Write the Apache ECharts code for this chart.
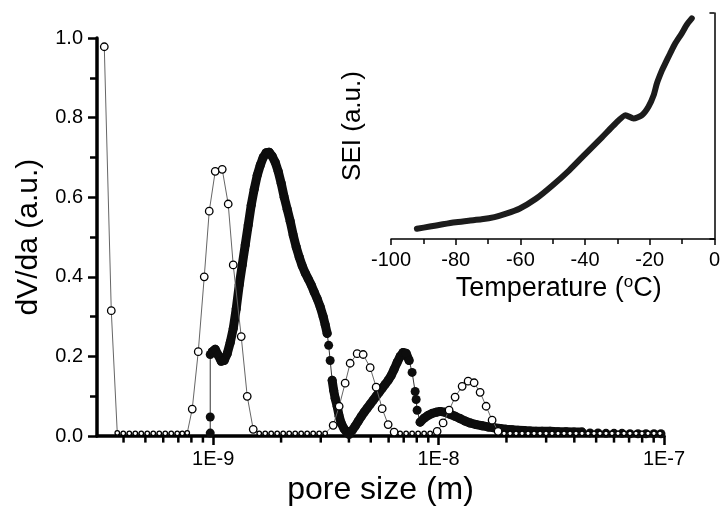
<!DOCTYPE html>
<html>
<head>
<meta charset="utf-8">
<script src="https://cdn.jsdelivr.net/npm/echarts@6/dist/echarts.min.js"></script>
<style>
  html, body { margin: 0; padding: 0; background: #fff; }
  #chart { width: 723px; height: 511px; }
</style>
</head>
<body>
<div id="chart"></div>
<script>
const FONT = '"Liberation Sans", Arial, Helvetica, sans-serif';

// Pore size distribution, open circles (pore size in m, dV/da in a.u.)
const openSize = [
  0.3286e-9, 0.3529e-9, 0.3752e-9, 0.3989e-9, 0.4242e-9, 0.4510e-9, 0.4795e-9, 0.5098e-9,
  0.5420e-9, 0.5762e-9, 0.6126e-9, 0.6513e-9, 0.6924e-9, 0.7287e-9, 0.7668e-9,
  0.8069e-9, 0.8581e-9, 0.9123e-9, 0.9600e-9, 1.0206e-9, 1.0962e-9, 1.1654e-9, 1.2267e-9,
  1.3311e-9, 1.4152e-9, 1.5046e-9,
  1.5996e-9, 1.7007e-9, 1.8081e-9, 1.9223e-9, 2.0437e-9, 2.1728e-9, 2.3101e-9, 2.4560e-9,
  2.6111e-9, 2.7760e-9, 2.9514e-9, 3.1378e-9,
  3.4050e-9, 3.6201e-9, 3.8487e-9, 4.0503e-9, 4.3509e-9, 4.6259e-9, 4.9691e-9, 5.2830e-9,
  5.6166e-9, 5.9714e-9, 6.3484e-9,
  6.7495e-9, 7.1757e-9, 7.6290e-9, 8.1113e-9, 8.6236e-9, 9.1682e-9,
  9.8480e-9, 10.470e-9, 11.131e-9, 11.834e-9, 12.715e-9, 13.518e-9, 14.372e-9, 15.280e-9,
  16.245e-9, 17.271e-9, 18.362e-9,
  19.521e-9, 20.754e-9, 22.065e-9, 23.458e-9, 24.940e-9, 26.515e-9, 28.190e-9, 29.970e-9,
  31.863e-9, 33.875e-9, 36.014e-9, 38.289e-9, 40.707e-9, 43.278e-9, 46.011e-9, 48.917e-9,
  52.007e-9, 55.291e-9, 58.783e-9, 62.496e-9, 66.443e-9, 70.639e-9, 75.101e-9, 79.844e-9,
  84.886e-9, 90.247e-9, 95.947e-9
];
const openDV = [
  0.978, 0.315, 0.008, 0.007, 0.007, 0.007, 0.007, 0.007,
  0.007, 0.007, 0.007, 0.007, 0.007, 0.007, 0.008,
  0.068, 0.212, 0.400, 0.565, 0.665, 0.670, 0.583, 0.430,
  0.250, 0.100, 0.017,
  0.007, 0.007, 0.007, 0.007, 0.007, 0.007, 0.007, 0.007,
  0.007, 0.007, 0.007, 0.007,
  0.027, 0.075, 0.133, 0.183, 0.207, 0.205, 0.172, 0.123,
  0.069, 0.029, 0.010,
  0.007, 0.007, 0.007, 0.007, 0.007, 0.007,
  0.012, 0.033, 0.065, 0.098, 0.125, 0.138, 0.134, 0.110,
  0.075, 0.040, 0.012,
  0.007, 0.007, 0.007, 0.007, 0.007, 0.007, 0.007, 0.007,
  0.007, 0.007, 0.007, 0.007, 0.007, 0.007, 0.007, 0.007,
  0.007, 0.007, 0.007, 0.007, 0.007, 0.007, 0.007, 0.007,
  0.007, 0.007, 0.007
];

// Pore size distribution, filled circles
const blackSize = [
  0.9698e-9, 0.9698e-9, 0.9698e-9,
  0.9898e-9, 1.0206e-9, 1.0524e-9, 1.0851e-9, 1.1189e-9, 1.1536e-9, 1.1896e-9, 1.2267e-9,
  1.2649e-9, 1.3043e-9, 1.3449e-9, 1.3867e-9, 1.4297e-9, 1.4742e-9, 1.5199e-9, 1.5672e-9,
  1.6160e-9, 1.6662e-9, 1.7181e-9, 1.7715e-9, 1.8266e-9, 1.8834e-9, 1.9420e-9, 2.0024e-9,
  2.0647e-9, 2.1289e-9, 2.1951e-9, 2.2634e-9, 2.3338e-9, 2.4064e-9, 2.4812e-9, 2.5584e-9,
  2.6380e-9, 2.7200e-9, 2.8046e-9, 2.8918e-9, 2.9818e-9, 3.0745e-9, 3.1378e-9, 3.2026e-9,
  3.2523e-9, 3.3025e-9,
  3.3704e-9, 3.4224e-9, 3.4753e-9, 3.5470e-9, 3.6201e-9, 3.6948e-9, 3.8096e-9, 3.9282e-9,
  4.0092e-9, 4.1338e-9, 4.2629e-9, 4.3955e-9, 4.5323e-9, 4.6733e-9, 4.8188e-9, 4.9691e-9,
  5.1235e-9, 5.2830e-9, 5.4472e-9, 5.6166e-9, 5.7914e-9, 5.9714e-9, 6.1573e-9, 6.3484e-9,
  6.5454e-9, 6.7495e-9, 6.9592e-9, 7.1757e-9, 7.3985e-9,
  7.6290e-9, 7.8676e-9, 7.9484e-9, 8.0300e-9,
  8.2797e-9, 8.6236e-9, 8.9827e-9, 9.3571e-9, 9.7479e-9, 10.154e-9, 10.686e-9, 11.245e-9,
  11.834e-9, 12.454e-9, 13.104e-9, 13.789e-9, 14.669e-9, 15.596e-9, 16.580e-9, 17.627e-9,
  18.738e-9, 19.924e-9, 21.183e-9, 22.519e-9, 23.942e-9, 25.453e-9, 27.063e-9, 28.772e-9,
  31.217e-9, 33.875e-9, 36.757e-9, 39.884e-9, 43.278e-9,
  46.962e-9, 50.955e-9, 55.291e-9, 60.005e-9, 65.104e-9, 70.639e-9, 76.652e-9, 83.173e-9,
  90.247e-9, 96.932e-9
];
const blackDV = [
  0.0075, 0.048, 0.205,
  0.212, 0.218, 0.203, 0.188, 0.190, 0.207, 0.235, 0.270,
  0.320, 0.380, 0.430, 0.480, 0.530, 0.580, 0.620, 0.655,
  0.680, 0.700, 0.712, 0.713, 0.703, 0.688, 0.665, 0.635,
  0.600, 0.570, 0.540, 0.505, 0.475, 0.450, 0.428, 0.410,
  0.395, 0.380, 0.362, 0.345, 0.325, 0.300, 0.280, 0.258,
  0.228, 0.190,
  0.140, 0.115, 0.095, 0.075, 0.050, 0.033, 0.018, 0.008,
  0.004, 0.014, 0.025, 0.037, 0.049, 0.060, 0.070, 0.080,
  0.090, 0.100, 0.110, 0.120, 0.130, 0.140, 0.152, 0.168,
  0.185, 0.200, 0.210, 0.208, 0.190,
  0.160, 0.112, 0.092, 0.065,
  0.035, 0.045, 0.052, 0.057, 0.060, 0.062, 0.060, 0.055,
  0.050, 0.044, 0.038, 0.033, 0.029, 0.026, 0.023, 0.021,
  0.019, 0.017, 0.016, 0.015, 0.014, 0.013, 0.012, 0.012,
  0.012, 0.011, 0.011, 0.010, 0.010,
  0.008, 0.008, 0.007, 0.007, 0.007, 0.006, 0.006, 0.006,
  0.006, 0.006
];
// index ranges [start, end) where the filled markers overlap into a solid band
const blackDenseRuns = [[3, 43], [45, 74], [78, 107]];

// Minor tick positions on the logarithmic pore-size axis
const minorTickSizes = [
  4e-10, 5e-10, 6e-10, 7e-10, 8e-10, 9e-10,
  2e-9, 3e-9, 4e-9, 5e-9, 6e-9, 7e-9, 8e-9, 9e-9,
  2e-8, 3e-8, 4e-8, 5e-8, 6e-8, 7e-8, 8e-8, 9e-8
];

// Inset: SEI versus temperature
const insetTemp = [
  -92, -88, -84, -80, -76, -72, -68, -64.4, -60.3, -55.2, -50.1, -44.9, -39.8,
  -34.7, -30.6, -27.5, -25.0, -22.4, -20.4, -18.8, -17.8, -16.2, -15.2, -13.7,
  -12.1, -10.1, -8.6, -7.0
];
const insetSEI = [
  0.045, 0.055, 0.065, 0.074, 0.081, 0.087, 0.097, 0.112, 0.134, 0.178, 0.237, 0.304, 0.378,
  0.451, 0.511, 0.548, 0.533, 0.548, 0.585, 0.636, 0.688, 0.747, 0.777, 0.821,
  0.866, 0.910, 0.947, 0.976
];

const zip = (xs, ys) => xs.map((x, i) => [x, ys[i]]);
const blackData = zip(blackSize, blackDV);

const chart = echarts.init(document.getElementById('chart'), null, { renderer: 'canvas' });

const thickSeries = blackDenseRuns.map(([a, b]) => ({
  type: 'line',
  xAxisIndex: 0, yAxisIndex: 0,
  data: blackData.slice(a, b),
  symbol: 'none',
  lineStyle: { color: '#0d0d0d', width: 9, cap: 'round', join: 'round' },
  z: 3,
  silent: true
}));

chart.setOption({
  animation: false,
  backgroundColor: '#fff',
  textStyle: { fontFamily: FONT, color: '#000' },
  grid: [
    { left: 97, right: 59, top: 38, bottom: 73 },
    { left: 391, right: 6, top: 13, bottom: 272 }
  ],
  xAxis: [
    {
      type: 'log', logBase: 10, gridIndex: 0,
      min: 3.05e-10, max: 1e-7,
      axisLine: { lineStyle: { color: '#000', width: 3.5 } },
      axisTick: { length: 9, lineStyle: { color: '#000', width: 2.5 } },
      axisLabel: {
        color: '#000', fontSize: 20, fontFamily: FONT, margin: 13,
        showMinLabel: false,
        formatter: v => '1E' + Math.round(Math.log10(v))
      },
      splitLine: { show: false },
      name: 'pore size (m)', nameLocation: 'middle', nameGap: 37,
      nameTextStyle: { fontSize: 32, fontFamily: FONT, color: '#000' }
    },
    {
      type: 'value', gridIndex: 1, min: -100, max: 0, interval: 20,
      axisLine: { lineStyle: { color: '#000', width: 1.5 } },
      axisTick: { length: 6, lineStyle: { color: '#000', width: 1.5 } },
      minorTick: { show: true, splitNumber: 2, length: 5, lineStyle: { color: '#000', width: 1.5 } },
      axisLabel: { color: '#000', fontSize: 20, fontFamily: FONT, margin: 11 },
      splitLine: { show: false },
      name: '{t|Temperature (}{s|o}{t|C)}', nameLocation: 'middle', nameGap: 35,
      nameTextStyle: {
        color: '#000', fontFamily: FONT, fontSize: 27,
        padding: [0, 0, 0, 12],
        rich: {
          t: { fontSize: 27, fontFamily: FONT, color: '#000', lineHeight: 29 },
          s: { fontSize: 17, fontFamily: FONT, color: '#000', verticalAlign: 'top', lineHeight: 17 }
        }
      }
    }
  ],
  yAxis: [
    {
      type: 'value', gridIndex: 0, min: 0, max: 1, interval: 0.2,
      axisLine: { show: true, lineStyle: { color: '#000', width: 3.5 } },
      axisTick: { show: true, length: 9, lineStyle: { color: '#000', width: 2.5 } },
      minorTick: { show: true, splitNumber: 2, length: 7, lineStyle: { color: '#000', width: 2.5 } },
      axisLabel: { color: '#000', fontSize: 20, fontFamily: FONT, margin: 14, formatter: v => v.toFixed(1) },
      splitLine: { show: false },
      name: 'dV/da (a.u.)', nameLocation: 'middle', nameGap: 53,
      nameTextStyle: { fontSize: 30, fontFamily: FONT, color: '#000' }
    },
    {
      type: 'value', gridIndex: 1, min: 0, max: 1, interval: 1,
      axisLine: { show: true, lineStyle: { color: '#000', width: 1.5 } },
      axisTick: { show: true, length: 5, lineStyle: { color: '#000', width: 1.5 } },
      axisLabel: { show: false },
      splitLine: { show: false },
      name: 'SEI (a.u.)', nameLocation: 'middle', nameGap: 25,
      nameTextStyle: { fontSize: 26, fontFamily: FONT, color: '#000' }
    }
  ],
  series: [
    {
      // minor ticks of the log axis
      type: 'custom', xAxisIndex: 0, yAxisIndex: 0, clip: false, silent: true, z: 1,
      data: minorTickSizes.map(v => [v, 0]),
      renderItem: (params, api) => {
        const p = api.coord([api.value(0), 0]);
        return {
          type: 'line',
          shape: { x1: p[0], y1: p[1], x2: p[0], y2: p[1] + 6.5 },
          style: { stroke: '#000', lineWidth: 2.5 }
        };
      }
    },
    {
      type: 'line', xAxisIndex: 0, yAxisIndex: 0,
      data: blackData,
      symbol: 'circle', symbolSize: 9,
      itemStyle: { color: '#0d0d0d' },
      lineStyle: { color: '#333', width: 1 },
      z: 3, silent: true
    },
    ...thickSeries,
    {
      type: 'line', xAxisIndex: 0, yAxisIndex: 0,
      data: zip(openSize, openDV),
      symbol: 'circle',
      symbolSize: v => (v[1] < 0.009 ? 4.5 : 7.5),
      itemStyle: { color: '#fff', borderColor: '#000', borderWidth: 1.3 },
      lineStyle: { color: '#666', width: 1 },
      z: 5, silent: true
    },
    {
      type: 'line', xAxisIndex: 1, yAxisIndex: 1,
      data: zip(insetTemp, insetSEI),
      smooth: 0.2,
      symbol: 'none',
      lineStyle: { color: '#1c1c1c', width: 6, cap: 'round', join: 'round' },
      z: 4, silent: true
    }
  ]
});
</script>
</body>
</html>
